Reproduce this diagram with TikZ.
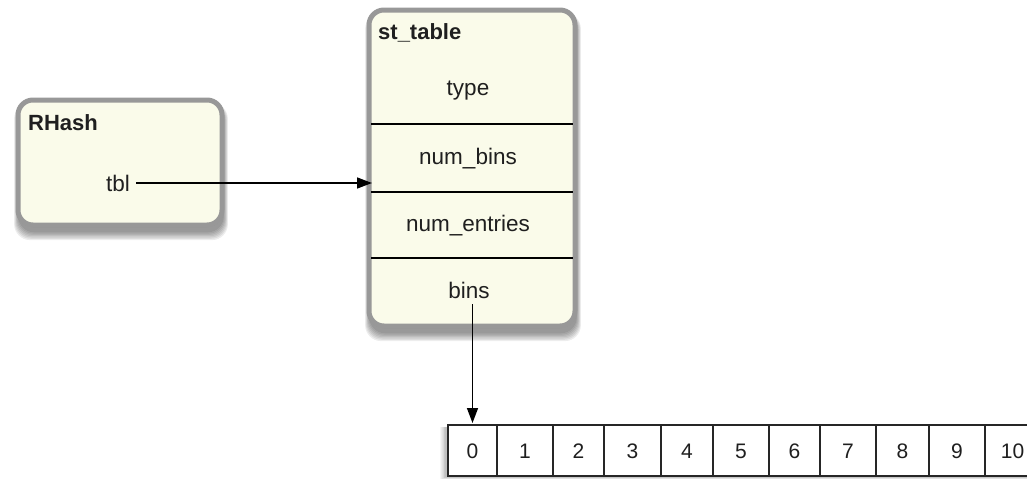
\documentclass[tikz,border=0pt]{standalone}
\usepackage{fontspec}
\setmainfont{Liberation Sans}
\usetikzlibrary{arrows.meta,calc}
\definecolor{boxfill}{RGB}{250,251,234}
\definecolor{boxborder}{RGB}{152,152,152}
\tikzset{
  every picture/.style={x=1pt,y=-1pt},
  txt/.style={font=\fontsize{22.5}{26}\selectfont, text=black!88, inner sep=6pt},
  title/.style={font=\fontsize{22}{26}\selectfont\bfseries, text=black!88, inner sep=0pt, anchor=west},
  structbox/.style={draw=boxborder, line width=5pt, fill=boxfill, rounded corners=15pt},
  sepline/.style={line width=1.4pt, black},
  cellbox/.style={draw=black!85, line width=1.9pt, fill=white},
  digit/.style={font=\fontsize{21}{24}\selectfont, text=black!88},
  ptr/.style={line width=1.5pt, black, -{Triangle[length=15pt,width=11pt]}},
}
\begin{document}
\begin{tikzpicture}
\useasboundingbox (0,0) rectangle (1027,479);
\clip (0,0) rectangle (1027,479);
% shadows
\foreach \i in {1,...,7}{
  \fill[black, opacity=0.07, rounded corners=16pt]
    ($(18,100)+(1,5)+(-\i*0.7,-\i*0.3)$) rectangle ($(222,225)+(1,6)+(\i*0.7,\i*1.3)$);
  \fill[black, opacity=0.07, rounded corners=16pt]
    ($(369,10)+(1,5)+(-\i*0.7,-\i*0.3)$) rectangle ($(575,326)+(1,6)+(\i*0.7,\i*1.3)$);
  \fill[black, opacity=0.04]
    ($(446,426)+(-\i*0.8,1)$) rectangle ($(1040,477)+(0,\i*0.3)$);
}
% RHash box
\draw[structbox] (18,100) rectangle (222,225);
\node[title] (rhashtitle) at (28,123) {RHash};
\node[txt] (tbl) at (118,183) {tbl};
% st_table box
\draw[structbox] (369,10) rectangle (575,326);
\coordinate (stwest) at (372,183);
\node[title] (sttitle) at (378,33) {st\_table};
\node[txt] (type) at (468,91) {type};
\node[txt] (numbins) at (468,159) {num\_bins};
\node[txt] (numentries) at (468,226) {num\_entries};
\node[txt] (bins) at (469,290) {bins};
\draw[sepline] (371,124) -- (573,124);
\draw[sepline] (371,192) -- (573,192);
\draw[sepline] (371,258) -- (573,258);
% array
\foreach \a/\b [count=\k from 0] in {448/497,497/553,553/604,604/661,661/713,713/769,769/820,820/876,876/929,929/985,985/1040}{
  \draw[cellbox] (\a,425) rectangle (\b,476);
  \node[digit] (c\k) at ({(\a+\b)/2},451) {\k};
}
\coordinate (c0top) at (472.5,423);
% connectors
\draw[ptr] (tbl.east |- stwest) -- (stwest);
\draw[ptr] (bins.south -| c0top) -- (c0top);
\end{tikzpicture}
\end{document}
